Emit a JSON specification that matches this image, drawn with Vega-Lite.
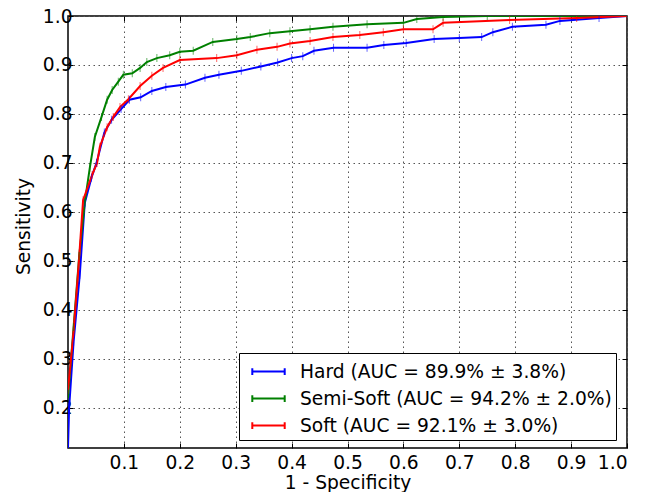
{
  "$schema": "https://vega.github.io/schema/vega-lite/v6.json",
  "autosize": {"type": "none"},
  "padding": {"left": 68, "top": 16, "right": 18, "bottom": 44},
  "width": 559,
  "height": 432,
  "background": "white",
  "config": {
    "font": "DejaVu Sans",
    "view": {"stroke": "black", "strokeWidth": 1.5},
    "axis": {
      "labelFont": "DejaVu Sans",
      "labelFontSize": 18.67,
      "labelColor": "black",
      "titleFont": "DejaVu Sans",
      "titleFontSize": 18.67,
      "titleFontWeight": "normal",
      "titleColor": "black",
      "domain": false,
      "tickColor": "black",
      "tickSize": -5,
      "gridColor": "#555555",
      "gridDash": [1.5, 3.5],
      "gridWidth": 1,
      "gridOpacity": 1
    },
    "legend": {
      "labelFont": "DejaVu Sans",
      "labelFontSize": 18.67,
      "labelColor": "black",
      "labelLimit": 500
    }
  },
  "resolve": {"axis": {"x": "independent", "y": "independent"}},
  "data": {
    "values": [
      {"curve": "Hard (AUC = 89.9% ± 3.8%)", "x": 0, "y": 0.118},
      {"curve": "Hard (AUC = 89.9% ± 3.8%)", "x": 0.002, "y": 0.2},
      {"curve": "Hard (AUC = 89.9% ± 3.8%)", "x": 0.01, "y": 0.335},
      {"curve": "Hard (AUC = 89.9% ± 3.8%)", "x": 0.021, "y": 0.471},
      {"curve": "Hard (AUC = 89.9% ± 3.8%)", "x": 0.03, "y": 0.618},
      {"curve": "Hard (AUC = 89.9% ± 3.8%)", "x": 0.042, "y": 0.67},
      {"curve": "Hard (AUC = 89.9% ± 3.8%)", "x": 0.051, "y": 0.70},
      {"curve": "Hard (AUC = 89.9% ± 3.8%)", "x": 0.065, "y": 0.762},
      {"curve": "Hard (AUC = 89.9% ± 3.8%)", "x": 0.078, "y": 0.788},
      {"curve": "Hard (AUC = 89.9% ± 3.8%)", "x": 0.095, "y": 0.81},
      {"curve": "Hard (AUC = 89.9% ± 3.8%)", "x": 0.11, "y": 0.829},
      {"curve": "Hard (AUC = 89.9% ± 3.8%)", "x": 0.13, "y": 0.834},
      {"curve": "Hard (AUC = 89.9% ± 3.8%)", "x": 0.15, "y": 0.847},
      {"curve": "Hard (AUC = 89.9% ± 3.8%)", "x": 0.175, "y": 0.855},
      {"curve": "Hard (AUC = 89.9% ± 3.8%)", "x": 0.21, "y": 0.86},
      {"curve": "Hard (AUC = 89.9% ± 3.8%)", "x": 0.245, "y": 0.874},
      {"curve": "Hard (AUC = 89.9% ± 3.8%)", "x": 0.27, "y": 0.88},
      {"curve": "Hard (AUC = 89.9% ± 3.8%)", "x": 0.31, "y": 0.888},
      {"curve": "Hard (AUC = 89.9% ± 3.8%)", "x": 0.345, "y": 0.897},
      {"curve": "Hard (AUC = 89.9% ± 3.8%)", "x": 0.375, "y": 0.905},
      {"curve": "Hard (AUC = 89.9% ± 3.8%)", "x": 0.4, "y": 0.914},
      {"curve": "Hard (AUC = 89.9% ± 3.8%)", "x": 0.42, "y": 0.918},
      {"curve": "Hard (AUC = 89.9% ± 3.8%)", "x": 0.44, "y": 0.929},
      {"curve": "Hard (AUC = 89.9% ± 3.8%)", "x": 0.475, "y": 0.935},
      {"curve": "Hard (AUC = 89.9% ± 3.8%)", "x": 0.535, "y": 0.935},
      {"curve": "Hard (AUC = 89.9% ± 3.8%)", "x": 0.565, "y": 0.941},
      {"curve": "Hard (AUC = 89.9% ± 3.8%)", "x": 0.605, "y": 0.945},
      {"curve": "Hard (AUC = 89.9% ± 3.8%)", "x": 0.655, "y": 0.953},
      {"curve": "Hard (AUC = 89.9% ± 3.8%)", "x": 0.7, "y": 0.955},
      {"curve": "Hard (AUC = 89.9% ± 3.8%)", "x": 0.74, "y": 0.957},
      {"curve": "Hard (AUC = 89.9% ± 3.8%)", "x": 0.76, "y": 0.967},
      {"curve": "Hard (AUC = 89.9% ± 3.8%)", "x": 0.795, "y": 0.978},
      {"curve": "Hard (AUC = 89.9% ± 3.8%)", "x": 0.855, "y": 0.982},
      {"curve": "Hard (AUC = 89.9% ± 3.8%)", "x": 0.88, "y": 0.99},
      {"curve": "Hard (AUC = 89.9% ± 3.8%)", "x": 0.95, "y": 0.996},
      {"curve": "Hard (AUC = 89.9% ± 3.8%)", "x": 1, "y": 1},

      {"curve": "Semi-Soft (AUC = 94.2% ± 2.0%)", "x": 0, "y": 0.22},
      {"curve": "Semi-Soft (AUC = 94.2% ± 2.0%)", "x": 0.01, "y": 0.365},
      {"curve": "Semi-Soft (AUC = 94.2% ± 2.0%)", "x": 0.02, "y": 0.51},
      {"curve": "Semi-Soft (AUC = 94.2% ± 2.0%)", "x": 0.03, "y": 0.62},
      {"curve": "Semi-Soft (AUC = 94.2% ± 2.0%)", "x": 0.039, "y": 0.69},
      {"curve": "Semi-Soft (AUC = 94.2% ± 2.0%)", "x": 0.048, "y": 0.753},
      {"curve": "Semi-Soft (AUC = 94.2% ± 2.0%)", "x": 0.06, "y": 0.794},
      {"curve": "Semi-Soft (AUC = 94.2% ± 2.0%)", "x": 0.07, "y": 0.829},
      {"curve": "Semi-Soft (AUC = 94.2% ± 2.0%)", "x": 0.079, "y": 0.849},
      {"curve": "Semi-Soft (AUC = 94.2% ± 2.0%)", "x": 0.09, "y": 0.866},
      {"curve": "Semi-Soft (AUC = 94.2% ± 2.0%)", "x": 0.099, "y": 0.88},
      {"curve": "Semi-Soft (AUC = 94.2% ± 2.0%)", "x": 0.115, "y": 0.883},
      {"curve": "Semi-Soft (AUC = 94.2% ± 2.0%)", "x": 0.129, "y": 0.894},
      {"curve": "Semi-Soft (AUC = 94.2% ± 2.0%)", "x": 0.141, "y": 0.906},
      {"curve": "Semi-Soft (AUC = 94.2% ± 2.0%)", "x": 0.159, "y": 0.914},
      {"curve": "Semi-Soft (AUC = 94.2% ± 2.0%)", "x": 0.182, "y": 0.92},
      {"curve": "Semi-Soft (AUC = 94.2% ± 2.0%)", "x": 0.2, "y": 0.927},
      {"curve": "Semi-Soft (AUC = 94.2% ± 2.0%)", "x": 0.224, "y": 0.929},
      {"curve": "Semi-Soft (AUC = 94.2% ± 2.0%)", "x": 0.259, "y": 0.947},
      {"curve": "Semi-Soft (AUC = 94.2% ± 2.0%)", "x": 0.302, "y": 0.953},
      {"curve": "Semi-Soft (AUC = 94.2% ± 2.0%)", "x": 0.326, "y": 0.957},
      {"curve": "Semi-Soft (AUC = 94.2% ± 2.0%)", "x": 0.361, "y": 0.965},
      {"curve": "Semi-Soft (AUC = 94.2% ± 2.0%)", "x": 0.397, "y": 0.969},
      {"curve": "Semi-Soft (AUC = 94.2% ± 2.0%)", "x": 0.433, "y": 0.973},
      {"curve": "Semi-Soft (AUC = 94.2% ± 2.0%)", "x": 0.474, "y": 0.978},
      {"curve": "Semi-Soft (AUC = 94.2% ± 2.0%)", "x": 0.535, "y": 0.983},
      {"curve": "Semi-Soft (AUC = 94.2% ± 2.0%)", "x": 0.6, "y": 0.986},
      {"curve": "Semi-Soft (AUC = 94.2% ± 2.0%)", "x": 0.624, "y": 0.994},
      {"curve": "Semi-Soft (AUC = 94.2% ± 2.0%)", "x": 0.671, "y": 0.998},
      {"curve": "Semi-Soft (AUC = 94.2% ± 2.0%)", "x": 0.75, "y": 1},
      {"curve": "Semi-Soft (AUC = 94.2% ± 2.0%)", "x": 1, "y": 1},

      {"curve": "Soft (AUC = 92.1% ± 3.0%)", "x": 0, "y": 0.237},
      {"curve": "Soft (AUC = 92.1% ± 3.0%)", "x": 0.009, "y": 0.343},
      {"curve": "Soft (AUC = 92.1% ± 3.0%)", "x": 0.018, "y": 0.475},
      {"curve": "Soft (AUC = 92.1% ± 3.0%)", "x": 0.027, "y": 0.624},
      {"curve": "Soft (AUC = 92.1% ± 3.0%)", "x": 0.043, "y": 0.675},
      {"curve": "Soft (AUC = 92.1% ± 3.0%)", "x": 0.052, "y": 0.70},
      {"curve": "Soft (AUC = 92.1% ± 3.0%)", "x": 0.057, "y": 0.733},
      {"curve": "Soft (AUC = 92.1% ± 3.0%)", "x": 0.07, "y": 0.773},
      {"curve": "Soft (AUC = 92.1% ± 3.0%)", "x": 0.081, "y": 0.794},
      {"curve": "Soft (AUC = 92.1% ± 3.0%)", "x": 0.093, "y": 0.814},
      {"curve": "Soft (AUC = 92.1% ± 3.0%)", "x": 0.108, "y": 0.83},
      {"curve": "Soft (AUC = 92.1% ± 3.0%)", "x": 0.129, "y": 0.857},
      {"curve": "Soft (AUC = 92.1% ± 3.0%)", "x": 0.15, "y": 0.878},
      {"curve": "Soft (AUC = 92.1% ± 3.0%)", "x": 0.17, "y": 0.894},
      {"curve": "Soft (AUC = 92.1% ± 3.0%)", "x": 0.2, "y": 0.910},
      {"curve": "Soft (AUC = 92.1% ± 3.0%)", "x": 0.266, "y": 0.914},
      {"curve": "Soft (AUC = 92.1% ± 3.0%)", "x": 0.302, "y": 0.92},
      {"curve": "Soft (AUC = 92.1% ± 3.0%)", "x": 0.338, "y": 0.931},
      {"curve": "Soft (AUC = 92.1% ± 3.0%)", "x": 0.374, "y": 0.937},
      {"curve": "Soft (AUC = 92.1% ± 3.0%)", "x": 0.397, "y": 0.944},
      {"curve": "Soft (AUC = 92.1% ± 3.0%)", "x": 0.433, "y": 0.949},
      {"curve": "Soft (AUC = 92.1% ± 3.0%)", "x": 0.474, "y": 0.957},
      {"curve": "Soft (AUC = 92.1% ± 3.0%)", "x": 0.522, "y": 0.961},
      {"curve": "Soft (AUC = 92.1% ± 3.0%)", "x": 0.564, "y": 0.967},
      {"curve": "Soft (AUC = 92.1% ± 3.0%)", "x": 0.6, "y": 0.973},
      {"curve": "Soft (AUC = 92.1% ± 3.0%)", "x": 0.653, "y": 0.973},
      {"curve": "Soft (AUC = 92.1% ± 3.0%)", "x": 0.671, "y": 0.986},
      {"curve": "Soft (AUC = 92.1% ± 3.0%)", "x": 0.79, "y": 0.992},
      {"curve": "Soft (AUC = 92.1% ± 3.0%)", "x": 0.91, "y": 0.996},
      {"curve": "Soft (AUC = 92.1% ± 3.0%)", "x": 1, "y": 1}
    ]
  },
  "encoding": {
    "color": {
      "field": "curve",
      "type": "nominal",
      "scale": {
        "domain": ["Hard (AUC = 89.9% ± 3.8%)", "Semi-Soft (AUC = 94.2% ± 2.0%)", "Soft (AUC = 92.1% ± 3.0%)"],
        "range": ["#0000ff", "#008000", "#ff0000"]
      },
      "legend": {
        "title": null,
        "orient": "none",
        "legendX": 171,
        "legendY": 337,
        "strokeColor": "black",
        "fillColor": "white",
        "padding": 4,
        "symbolType": "M-1.2,0H1.2M-1.2,-0.25V0.25M1.2,-0.25V0.25",
        "symbolSize": 729,
        "symbolStrokeWidth": 2,
        "symbolOpacity": 1,
        "symbolOffset": 11,
        "labelOffset": 17,
        "rowPadding": 2,
        "cornerRadius": 0
      }
    }
  },
  "layer": [
    {
      "mark": {"type": "line", "strokeWidth": 2, "clip": true},
      "encoding": {
        "x": {
          "field": "x",
          "type": "quantitative",
          "scale": {"domain": [0, 1], "nice": false, "zero": false},
          "axis": {"title": "1 - Specificity", "values": [0.1, 0.2, 0.3, 0.4, 0.5, 0.6, 0.7, 0.8, 0.9, 1.0], "format": ".1f", "labelPadding": 10, "titlePadding": 2}
        },
        "y": {
          "field": "y",
          "type": "quantitative",
          "scale": {"domain": [0.118, 1], "nice": false, "zero": false},
          "axis": {"title": "Sensitivity", "values": [0.2, 0.3, 0.4, 0.5, 0.6, 0.7, 0.8, 0.9, 1.0], "format": ".1f", "labelPadding": 1, "titleX": -35, "titleY": 210, "titleBaseline": "bottom"}
        }
      }
    },
    {
      "mark": {"type": "tick", "orient": "vertical", "size": 8, "thickness": 1, "opacity": 0.6, "clip": true},
      "encoding": {
        "x": {
          "field": "x",
          "type": "quantitative",
          "axis": {"orient": "top", "labels": false, "grid": false, "title": null, "values": [0.1, 0.2, 0.3, 0.4, 0.5, 0.6, 0.7, 0.8, 0.9]}
        },
        "y": {
          "field": "y",
          "type": "quantitative",
          "axis": {"orient": "right", "labels": false, "grid": false, "title": null, "values": [0.2, 0.3, 0.4, 0.5, 0.6, 0.7, 0.8, 0.9]}
        }
      }
    }
  ]
}
